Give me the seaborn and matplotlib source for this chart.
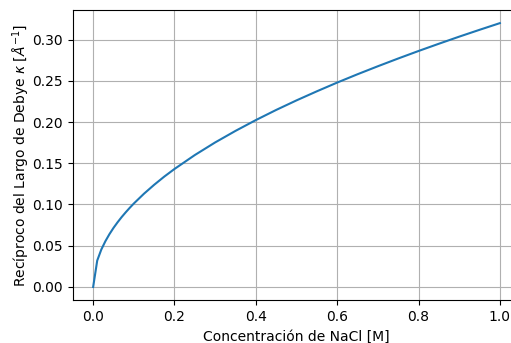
import matplotlib
matplotlib.use("Agg")
import matplotlib.pyplot as plt
import seaborn as sns
import pandas as pd

conc = [0.00, 0.01, 0.02, 0.03, 0.04, 0.05, 0.06, 0.07, 0.08, 0.09, 0.10,
        0.125, 0.15, 0.175, 0.20, 0.25, 0.30, 0.35, 0.40, 0.45, 0.50, 0.55,
        0.60, 0.65, 0.70, 0.75, 0.80, 0.85, 0.90, 0.95, 1.00]
kappa = [0.0000, 0.0320, 0.0453, 0.0554, 0.0640, 0.0716, 0.0784, 0.0847, 0.0905,
         0.0960, 0.1012, 0.1131, 0.1239, 0.1339, 0.1431, 0.1600, 0.1753, 0.1893,
         0.2024, 0.2147, 0.2263, 0.2373, 0.2479, 0.2580, 0.2677, 0.2771, 0.2862,
         0.2950, 0.3036, 0.3119, 0.3200]

df = pd.DataFrame({"c": conc, "k": kappa})

fig, ax = plt.subplots(figsize=(5.11, 3.43), dpi=100)
fig.subplots_adjust(left=0.1425, right=1.018, top=0.971, bottom=0.125)
sns.lineplot(data=df, x="c", y="k", ax=ax, color="#1f77b4", linewidth=1.5)
ax.grid(True)
ax.set_xlabel("Concentración de NaCl [M]")
ax.set_ylabel(r"Recíproco del Largo de Debye $\kappa$ [$\AA^{-1}$]", labelpad=0)
fig.savefig("out.png", dpi=100)
